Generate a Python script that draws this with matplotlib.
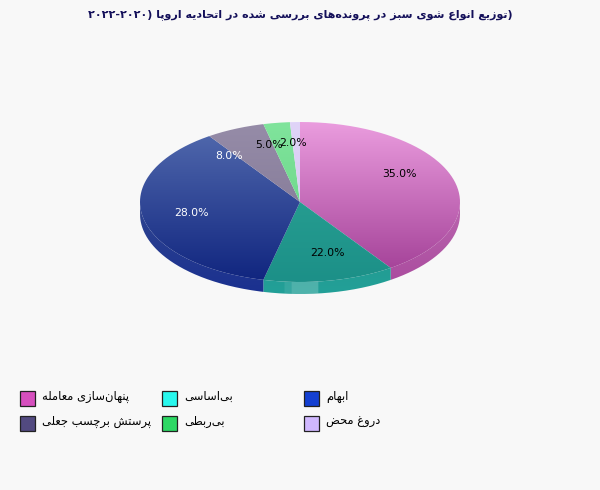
#!/usr/bin/env python3

import re
import numpy as np
import matplotlib
matplotlib.use('Agg')
import matplotlib.pyplot as plt
from matplotlib.colors import to_rgb
from matplotlib.patches import PathPatch, Rectangle
from matplotlib.path import Path

plt.rcParams['font.family'] = ['DejaVu Sans']

title = '(توزیع انواع شوی سبز در پرونده‌های بررسی شده در اتحادیه اروپا (۲۰۲۰-۲۰۲۲'
categories = ['پنهان‌سازی معامله', 'بی‌اساسی', 'ابهام',
              'پرستش برچسب جعلی', 'بی‌ربطی', 'دروغ محض']
shares = [35.0, 22.0, 28.0, 8.0, 5.0, 2.0]
# order in which the slices run clockwise from twelve o'clock
legend_colors = ['#d64fbe', '#28f8ee', '#1440d2', '#524a80', '#2dd864', '#d0b8ff']
top_colors = ['#ea9cde', '#2fa898', '#546caf', '#968ca8', '#80e49c', '#e0d4f8']
bottom_colors = ['#a03c94', '#1c9088', '#10257f', '#7c7290', '#60d080', '#d0c4ec']
wall_colors = ['#a8489c', '#22a098', '#1a3090', '#7c7290', '#60d080', '#d0c4ec']
label_colors = ['black', 'black', 'white', 'white', 'black', 'black']

CX, CY, RX, RY, DEPTH = 300.0, 202.0, 160.0, 80.0, 12.0
BG = '#f8f8f8'

# contextual forms: isolated, final, initial, medial (two forms = does not join forward)
FORMS = {
  'ا': 'ﺍﺎ', 'د': 'ﺩﺪ', 'ذ': 'ﺫﺬ', 'ر': 'ﺭﺮ', 'ز': 'ﺯﺰ', 'ژ': 'ﮊﮋ', 'و': 'ﻭﻮ',
  'ب': 'ﺏﺐﺑﺒ', 'پ': 'ﭖﭗﭘﭙ', 'ت': 'ﺕﺖﺗﺘ', 'ج': 'ﺝﺞﺟﺠ', 'چ': 'ﭺﭻﭼﭽ', 'ح': 'ﺡﺢﺣﺤ',
  'خ': 'ﺥﺦﺧﺨ', 'س': 'ﺱﺲﺳﺴ', 'ش': 'ﺵﺶﺷﺸ', 'ص': 'ﺹﺺﺻﺼ', 'ض': 'ﺽﺾﺿﻀ', 'ط': 'ﻁﻂﻃﻄ',
  'ع': 'ﻉﻊﻋﻌ', 'غ': 'ﻍﻎﻏﻐ', 'ف': 'ﻑﻒﻓﻔ', 'ق': 'ﻕﻖﻗﻘ', 'ل': 'ﻝﻞﻟﻠ', 'م': 'ﻡﻢﻣﻤ',
  'ن': 'ﻥﻦﻧﻨ', 'ه': 'ﻩﻪﻫﻬ', 'ی': 'ﯼﯽﯾﯿ',
}
MIRROR = {'(': ')', ')': '('}


def shape(text):
  # matplotlib has no Arabic shaping, so pick the forms by hand and lay out right to left
  out = []
  for i, ch in enumerate(text):
    if ch not in FORMS:
      if ch != '\u200c':
        out.append(MIRROR.get(ch, ch))
      continue
    prev = text[i - 1] if i > 0 else ''
    nxt = text[i + 1] if i + 1 < len(text) else ''
    joins_prev = prev in FORMS and len(FORMS[prev]) == 4
    joins_next = nxt in FORMS and len(FORMS[ch]) == 4
    if joins_prev and joins_next:
      out.append(FORMS[ch][3])
    elif joins_next:
      out.append(FORMS[ch][2])
    elif joins_prev:
      out.append(FORMS[ch][1])
    else:
      out.append(FORMS[ch][0])
  visual = ''.join(reversed(out))
  # numbers keep their own left to right order
  return re.sub('[۰-۹]+', lambda m: m.group(0)[::-1], visual)


def radius(theta):
  # slice edges follow the true screen angle, not the ellipse parameter
  return 1.0 / np.sqrt((np.sin(theta) / RX)**2 + (np.cos(theta) / RY)**2)


def rim_xy(theta):
  r = radius(theta)
  return CX + r * np.sin(theta), CY - r * np.cos(theta)


def wall_verts(a0, a1):
  x, y = rim_xy(np.linspace(a0, a1, 200))
  return np.column_stack((np.r_[x, x[::-1]], np.r_[y, y[::-1] + DEPTH]))


def vertical_fill(ax, clip, top, bottom, y0, y1):
  c0, c1 = np.array(top), np.array(bottom)
  t = np.linspace(0, 1, 128)[:, None, None]
  img = c0[None, None, :] * (1 - t) + c1[None, None, :] * t
  im = ax.imshow(img, extent=(CX - RX - 2, CX + RX + 2, y1, y0), aspect='auto',
                 interpolation='bilinear', zorder=2)
  patch = PathPatch(clip, facecolor='none', edgecolor='none', transform=ax.transData)
  ax.add_patch(patch)
  im.set_clip_path(patch)


fig = plt.figure(figsize=(6.0, 4.9), dpi=100, facecolor=BG)
ax = fig.add_axes([0, 0, 1, 1])
ax.set_axis_off()

edges = np.concatenate(([0.0], np.cumsum(shares))) / sum(shares) * 2 * np.pi

# side wall first, only the front half shows below the top face
for i in range(len(shares)):
  a0, a1 = max(edges[i], np.pi / 2), min(edges[i + 1], 3 * np.pi / 2)
  if a1 <= a0:
    continue
  verts = wall_verts(a0, a1)
  wall = Path(np.vstack((verts, verts[0])))
  # wall shading starts just under the face colour at mid height
  mid_face = 0.5 * (np.array(to_rgb(top_colors[i])) + np.array(to_rgb(bottom_colors[i])))
  vertical_fill(ax, wall, 0.95 * mid_face, to_rgb(wall_colors[i]), CY, CY + RY + DEPTH)

# light reflection on the wall of the second slice
for a0, a1, alpha in [(167, 186, 0.2), (186, 191, 0.09)]:
  verts = wall_verts(np.radians(a0), np.radians(a1))
  ax.fill(verts[:, 0], verts[:, 1], color='white', alpha=alpha, lw=0, zorder=3)

# top face
for i in range(len(shares)):
  x, y = rim_xy(np.linspace(edges[i], edges[i + 1], 200))
  verts = np.column_stack((np.r_[CX, x, CX], np.r_[CY, y, CY]))
  vertical_fill(ax, Path(verts), to_rgb(top_colors[i]), to_rgb(bottom_colors[i]), CY - RY, CY + RY)
  mid = 0.5 * (edges[i] + edges[i + 1])
  # labels sit on a smaller ellipse around the centre
  ax.text(CX + 0.7 * RX * np.sin(mid), CY - 0.7 * RY * np.cos(mid) - 3, f'{shares[i]:.1f}%',
          color=label_colors[i], fontsize=7.8, ha='center', va='center', zorder=5)

ax.text(300, 15, shape(title), color='#14105a', fontsize=8, fontweight='bold',
        ha='center', va='center', zorder=5)

# legend, two rows of three
col_x = [20, 162, 304]
row_y = [390.5, 415.5]
for i, name in enumerate(categories):
  x, y = col_x[i % 3], row_y[i // 3]
  ax.add_patch(Rectangle((x, y), 15, 15, facecolor=legend_colors[i], edgecolor='#222222', lw=0.9, zorder=4))
  ax.text(x + 22, y + 6, shape(name), color='black', fontsize=8.3, ha='left', va='center', zorder=5)

ax.set_xlim(0, 600)
ax.set_ylim(490, 0)
fig.savefig('out.png', dpi=100, facecolor=BG)
